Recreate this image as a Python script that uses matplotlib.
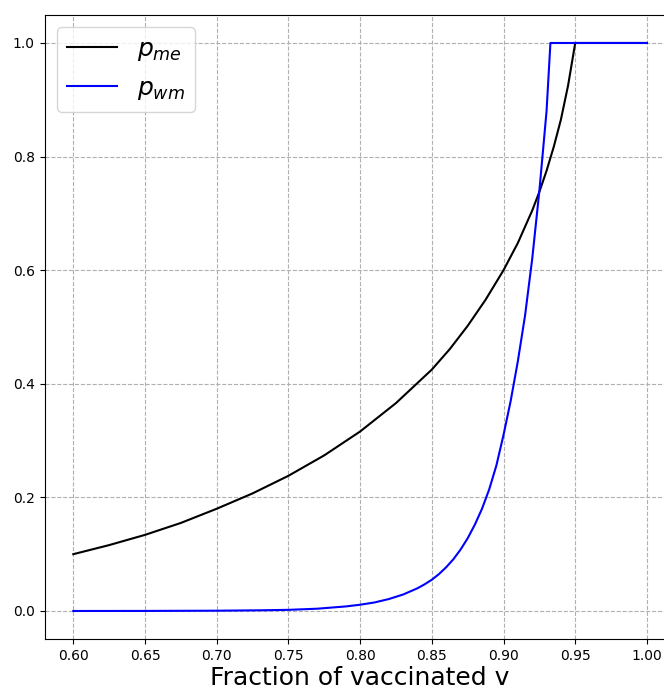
import matplotlib

matplotlib.use("Agg")
import matplotlib.pyplot as plt

# fraction vaccinated and the two probabilities
v_me = [0.60, 0.625, 0.65, 0.675, 0.70, 0.725, 0.75, 0.775, 0.80, 0.825,
        0.85, 0.8625, 0.875, 0.8875, 0.90, 0.91, 0.92, 0.925, 0.93, 0.935,
        0.94, 0.945, 0.95, 1.00]
p_me = [0.100, 0.116, 0.134, 0.155, 0.180, 0.207, 0.238, 0.274, 0.316, 0.366,
        0.425, 0.461, 0.502, 0.548, 0.600, 0.648, 0.705, 0.738, 0.775, 0.817,
        0.865, 0.925, 1.000, 1.000]

v_wm = [0.60, 0.65, 0.70, 0.73, 0.75, 0.77, 0.78, 0.79, 0.80, 0.81, 0.82,
        0.83, 0.84, 0.845, 0.85, 0.855, 0.86, 0.865, 0.87, 0.875, 0.88,
        0.885, 0.89, 0.895, 0.90, 0.905, 0.91, 0.915, 0.92, 0.925, 0.93,
        0.9327, 1.00]
p_wm = [0.0, 0.0001, 0.0005, 0.0012, 0.002, 0.004, 0.006, 0.008, 0.011, 0.015, 0.021,
        0.029, 0.040, 0.047, 0.055, 0.065, 0.077, 0.091, 0.108, 0.128, 0.152,
        0.180, 0.214, 0.256, 0.310, 0.370, 0.440, 0.520, 0.620, 0.740, 0.880,
        1.000, 1.000]

x_ticks = [0.60, 0.65, 0.70, 0.75, 0.80, 0.85, 0.90, 0.95, 1.00]
y_ticks = [0.0, 0.2, 0.4, 0.6, 0.8, 1.0]

fig = plt.figure(figsize=(6.64, 6.91), dpi=100)
ax = fig.add_axes([0.0672, 0.0747, 0.9503, 0.9042])

ax.plot(v_me, p_me, color="black", linewidth=1.5, label=r"$p_{me}$")
ax.plot(v_wm, p_wm, color="blue", linewidth=1.5, label=r"$p_{wm}$")

ax.set_xlim(0.58, 1.02)
ax.set_ylim(-0.05, 1.05)
ax.set_xticks(x_ticks)
ax.set_xticklabels([f"{t:.2f}" for t in x_ticks])
ax.set_yticks(y_ticks)
ax.set_yticklabels([f"{t:.1f}" for t in y_ticks])
ax.tick_params(labelsize=10)
ax.grid(True, linestyle="--", color="#b0b0b0", linewidth=0.8)
ax.set_xlabel("Fraction of vaccinated v", fontsize=18, labelpad=2)
ax.legend(loc="upper left", fontsize=18)

fig.savefig("out.png", dpi=100)
